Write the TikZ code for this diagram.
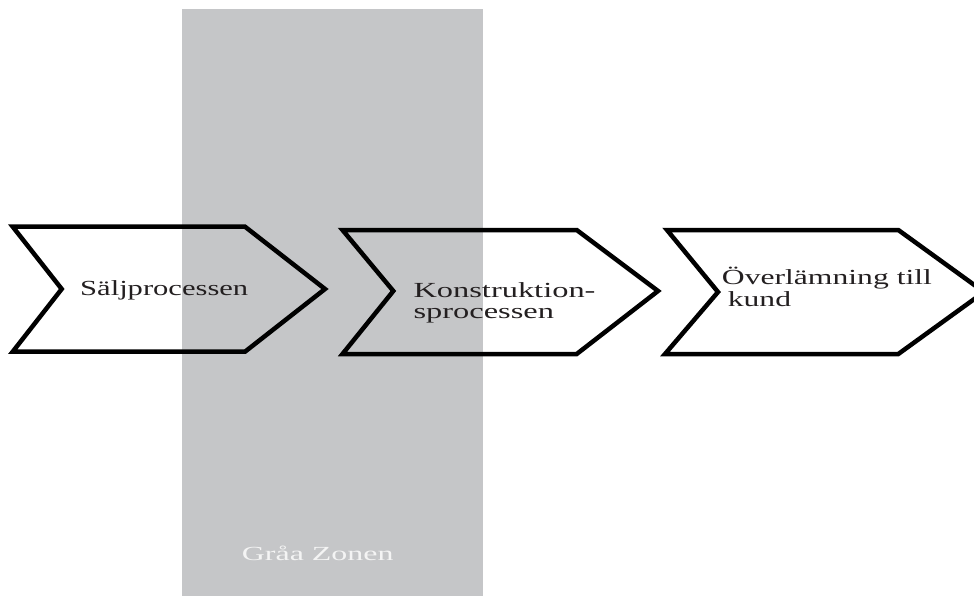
\documentclass[tikz,border=0pt]{standalone}
\usepackage{fontspec}
\setmainfont{Liberation Serif}
\usepackage{graphicx}
\definecolor{zonegray}{HTML}{C5C6C8}
\definecolor{inkblack}{HTML}{231F20}
\definecolor{zonetext}{HTML}{F4F4F4}
\tikzset{
  chevron/.style={draw=black, line width=4.5pt, line join=miter},
  label/.style={inner sep=0pt, anchor=base west, text=inkblack, font=\fontsize{21.5}{21}\selectfont},
  zonelabel/.style={inner sep=0pt, anchor=base west, text=zonetext, font=\fontsize{20}{22}\selectfont}
}
\begin{document}
\begin{tikzpicture}[x=1pt,y=-1pt]
\useasboundingbox (0,0) rectangle (974,596);
\clip (0,0) rectangle (974,596);
% grey zone
\fill[zonegray] (181.7,9.5) rectangle (483.3,600);
\node[zonelabel] (zone) at (241.7,560.7) {\resizebox{151.6pt}{\height}{Gråa Zonen}};
% chevrons
\draw[chevron] (12.7,226.7) coordinate (c1a) -- (245,226.7) -- (325,289) coordinate (c1tip) -- (245,351.7) -- (12.7,351.7) -- (61.7,289) coordinate (c1notch) -- cycle;
\draw[chevron] (342.5,230) coordinate (c2a) -- (576.7,230) -- (658,291) coordinate (c2tip) -- (576.7,354) -- (342.5,354) -- (393.3,291) coordinate (c2notch) -- cycle;
\draw[chevron] (667,230) coordinate (c3a) -- (898.3,230) -- (984,292) coordinate (c3tip) -- (898.3,354) -- (665,354) -- (718,292) coordinate (c3notch) -- cycle;
% labels
\node[label] (t1) at (80,295.5) {\resizebox{168pt}{\height}{Säljprocessen}};
\node[label] (t2) at (413.3,297) {\resizebox{182pt}{\height}{\begin{tabular}[t]{@{}l@{}}Konstruktion-\\sprocessen\end{tabular}}};
\node[label, font=\fontsize{21.5}{22}\selectfont] (t3) at (721.7,284) {\resizebox{210pt}{\height}{\begin{tabular}[t]{@{}l@{}}Överlämning till\\\hspace{4pt}kund\end{tabular}}};
\end{tikzpicture}
\end{document}
